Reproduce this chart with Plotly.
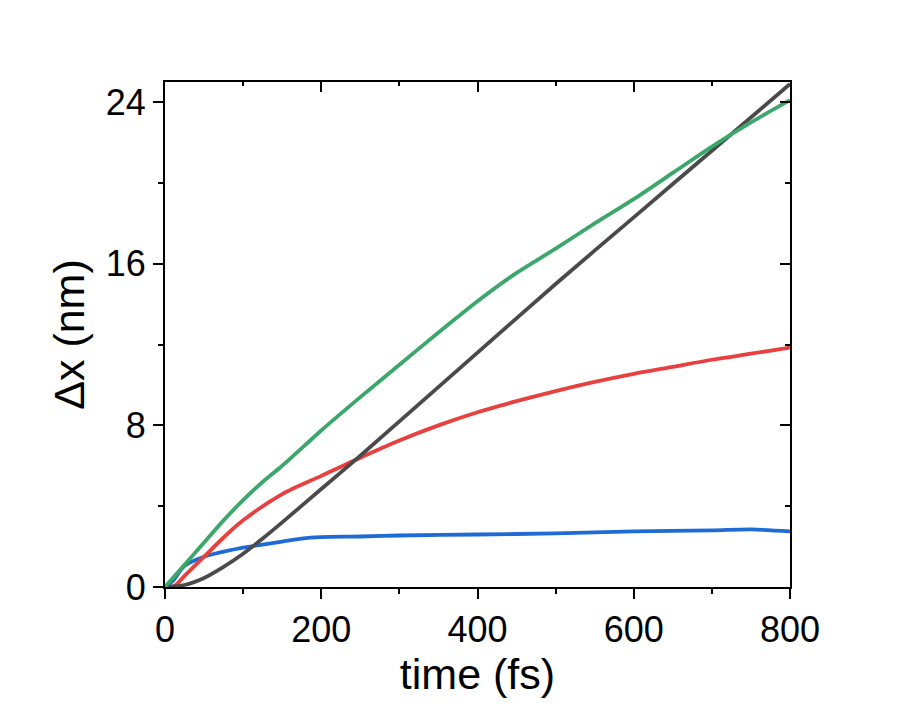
import plotly.graph_objects as go

# time axis (fs) and Δx (nm) per curve
t_black = [0, 25, 50, 75, 100, 125, 150, 200, 250, 300, 400, 500, 600, 700, 800]
dx_black = [0, 0.1, 0.45, 1.0, 1.65, 2.4, 3.2, 4.85, 6.5, 8.2, 11.6, 15.0, 18.3, 21.6, 24.9]

t_green = [0, 25, 50, 75, 100, 125, 150, 200, 250, 300, 350, 400, 450, 500, 550, 600, 650, 700, 750, 800]
dx_green = [0, 1.1, 2.2, 3.3, 4.3, 5.2, 6.0, 7.75, 9.4, 11.0, 12.6, 14.15, 15.55, 16.75, 18.0,
            19.2, 20.5, 21.8, 23.0, 24.1]

t_red = [0, 12, 25, 50, 75, 100, 150, 200, 250, 300, 350, 400, 450, 500, 550, 600, 650, 700, 750, 800]
dx_red = [0, 0.05, 0.55, 1.5, 2.45, 3.3, 4.6, 5.5, 6.4, 7.25, 8.0, 8.65, 9.2, 9.7, 10.15,
          10.55, 10.9, 11.25, 11.55, 11.85]

t_blue = [0, 10, 25, 50, 75, 100, 125, 150, 175, 200, 250, 300, 400, 500, 600, 700, 750, 800]
dx_blue = [0, 0.3, 1.05, 1.5, 1.75, 1.95, 2.1, 2.25, 2.4, 2.47, 2.5, 2.55, 2.6, 2.65, 2.75,
           2.8, 2.85, 2.75]

series = [
    (t_blue, dx_blue, "#1f6bd6"),
    (t_red, dx_red, "#e8403f"),
    (t_black, dx_black, "#4a4a4a"),
    (t_green, dx_green, "#3ba76b"),
]

FONT = "Liberation Sans, Arial, sans-serif"
XR, YR = [0, 800], [0, 25]

fig = go.Figure()
for t, dx, c in series:
    fig.add_trace(go.Scatter(x=t, y=dx, mode="lines",
                             line=dict(color=c, width=3.8, shape="spline", smoothing=0.8),
                             showlegend=False))

ax_common = dict(showgrid=False, zeroline=False, linecolor="black",
                 tickcolor="black", tickwidth=2, ticklen=10)
fig.update_layout(
    width=921, height=705, plot_bgcolor="white", paper_bgcolor="white",
    margin=dict(l=157, r=139, t=74, b=126),
    font=dict(family=FONT, size=36, color="black"),
    xaxis=dict(range=XR, dtick=200, ticks="outside", showline=True, mirror=True, linewidth=2,
               minor=dict(dtick=100, ticks="outside", ticklen=5, tickwidth=2, tickcolor="black"),
               title=dict(text="time (fs)", standoff=6), **ax_common),
    yaxis=dict(range=YR, dtick=8, ticks="outside", showline=True, mirror=True, linewidth=2,
               minor=dict(dtick=4, ticks="outside", ticklen=5, tickwidth=2, tickcolor="black"),
               title=dict(text="Δx (nm)", standoff=8), **ax_common),
    # inward ticks on the top and right edges
    xaxis2=dict(range=XR, overlaying="x", side="top", anchor="y", dtick=200, ticks="inside",
                showticklabels=False, showline=False,
                minor=dict(dtick=100, ticks="inside", ticklen=4, tickwidth=2, tickcolor="black"),
                **ax_common),
    yaxis2=dict(range=YR, overlaying="y", side="right", anchor="x", dtick=8, ticks="inside",
                showticklabels=False, showline=False,
                minor=dict(dtick=4, ticks="inside", ticklen=5, tickwidth=2, tickcolor="black"),
                **ax_common),
)
fig.add_trace(go.Scatter(x=[None], y=[None], xaxis="x2", yaxis="y2", showlegend=False))

fig.write_html("out.html")
